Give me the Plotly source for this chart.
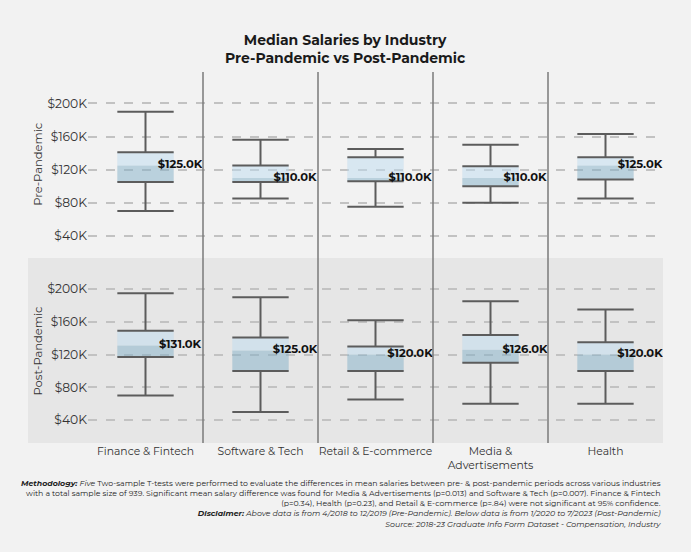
import plotly.graph_objects as go

# ---------------- data (salaries in $K) ----------------
industries = ["Finance & Fintech", "Software & Tech", "Retail & E-commerce",
              "Media &<br>Advertisements", "Health"]

pre_whislo = [70, 85, 75, 80, 85]
pre_q1 = [105, 105, 106, 100, 108]
pre_med = [125, 110, 110, 110, 125]
pre_q3 = [141, 125, 135, 124, 135]
pre_whishi = [190, 156, 145, 150, 163]

post_whislo = [70, 50, 65, 60, 60]
post_q1 = [117, 100, 100, 110, 100]
post_med = [131, 125, 120, 126, 120]
post_q3 = [149, 141, 130, 144, 135]
post_whishi = [195, 190, 162, 185, 175]

tick_vals = [40, 80, 120, 160, 200]
tick_text = ["$40K", "$80K", "$120K", "$160K", "$200K"]

footnotes = [
    "<b><i>Methodology:</i></b> <i>Five</i> Two-sample T-tests were performed to evaluate the differences in mean salaries between pre- & post-pandemic periods across various industries",
    "with a total sample size of 939. Significant mean salary difference was found for Media & Advertisements (p=0.013) and Software & Tech (p=0.007). Finance & Fintech",
    "(p=0.34), Health (p=0.23), and Retail & E-commerce (p=.84) were not significant at 95% confidence.",
    "<b><i>Disclaimer:</i></b> <i>Above data is from 4/2018 to 12/2019 (Pre-Pandemic). Below data is from 1/2020 to 7/2023 (Post-Pandemic)</i>",
    "<i>Source: 2018-23 Graduate Info Form Dataset - Compensation, Industry</i>",
]

# ---------------- style ----------------
FONT = "Montserrat, Inter, sans-serif"
BG = "#f2f2f2"
BOTTOM_BG = "#e6e6e6"
LIGHT = "rgba(190,220,240,0.5)"
DARK = "rgba(130,175,200,0.5)"
WHISK = "#5c5c5c"
BOX_W = 0.49

W, H = 691, 552
ML, MR, MT, MB = 88, 28, 72, 109
PH = H - MT - MB


def py(pix):
    return (H - MB - pix) / PH


def px(pix):
    return (pix - ML) / (W - ML - MR)


fig = go.Figure()
xs = list(range(len(industries)))


def add_panel(xa, ya, lo, q1, med, q3, hi):
    fig.add_trace(go.Bar(x=xs, y=[m - a for m, a in zip(med, q1)], base=q1,
                         width=BOX_W, marker=dict(color=DARK, line=dict(width=0)),
                         xaxis=xa, yaxis=ya, hoverinfo="skip", showlegend=False))
    fig.add_trace(go.Bar(x=xs, y=[b - m for m, b in zip(med, q3)], base=med,
                         width=BOX_W, marker=dict(color=LIGHT, line=dict(width=0)),
                         xaxis=xa, yaxis=ya, hoverinfo="skip", showlegend=False))
    lx, ly = [], []
    for i in xs:
        for v in (lo[i], q1[i], q3[i], hi[i]):
            lx += [i - BOX_W / 2, i + BOX_W / 2, None]
            ly += [v, v, None]
        lx += [i, i, None, i, i, None]
        ly += [q3[i], hi[i], None, lo[i], q1[i], None]
    fig.add_trace(go.Scatter(x=lx, y=ly, mode="lines",
                             line=dict(color=WHISK, width=2),
                             xaxis=xa, yaxis=ya, hoverinfo="skip", showlegend=False))
    fig.add_trace(go.Scatter(x=[i + 0.3 for i in xs], y=med, mode="text",
                             text=[f"<b>${m:.1f}K</b>" for m in med],
                             textfont=dict(family=FONT, size=11.5, color="#111"),
                             textposition="middle center",
                             xaxis=xa, yaxis=ya, hoverinfo="skip", showlegend=False))


add_panel("x2", "y", pre_whislo, pre_q1, pre_med, pre_q3, pre_whishi)
add_panel("x", "y2", post_whislo, post_q1, post_med, post_q3, post_whishi)

yax = dict(tickvals=tick_vals, ticktext=tick_text, showgrid=True,
           gridcolor="#c2c2c2", gridwidth=1.5, griddash="dash",
           zeroline=False, showline=False, ticks="",
           tickfont=dict(family=FONT, size=12.3, color="#333"))

fig.update_layout(
    width=W, height=H,
    margin=dict(l=ML, r=MR, t=MT, b=MB),
    paper_bgcolor=BG, plot_bgcolor="rgba(0,0,0,0)",
    barmode="overlay",
    font=dict(family=FONT, color="#333"),
    xaxis=dict(domain=[0, 1], anchor="y2", range=[-0.5, 4.5], tickvals=xs,
               ticktext=industries, showgrid=False, zeroline=False, ticks="",
               tickfont=dict(family=FONT, size=10.8, color="#333")),
    xaxis2=dict(domain=[0, 1], anchor="y", matches="x", range=[-0.5, 4.5],
                showticklabels=False, showgrid=False, zeroline=False, ticks=""),
    yaxis=dict(domain=[0.505, 1], range=[16, 238], anchor="x2", **yax),
    yaxis2=dict(domain=[0, 0.4987], range=[12, 238], anchor="x", **yax),
    showlegend=False,
)

# bottom panel background
fig.add_shape(type="rect", xref="paper", yref="y2 domain", x0=px(28), x1=1,
              y0=0, y1=1, fillcolor=BOTTOM_BG, line=dict(width=0), layer="below")
# category separators
for i in xs[:-1]:
    fig.add_shape(type="line", xref="x", yref="paper", x0=i + 0.5, x1=i + 0.5,
                  y0=0, y1=1, line=dict(color="#7a7a7a", width=1.5), layer="above")

fig.add_annotation(text="<b>Median Salaries by Industry<br>Pre-Pandemic vs Post-Pandemic</b>",
                   xref="paper", yref="paper", x=px(345.5), y=py(48.5),
                   xanchor="center", yanchor="middle", showarrow=False,
                   font=dict(family=FONT, size=14, color="#1a1a1a"))

fig.add_annotation(text="Pre-Pandemic", xref="paper", yref="y domain", x=px(38), y=0.5,
                   textangle=-90, xanchor="center", yanchor="middle", showarrow=False,
                   font=dict(family=FONT, size=11.5, color="#333"))
fig.add_annotation(text="Post-Pandemic", xref="paper", yref="y2 domain", x=px(38), y=0.5,
                   textangle=-90, xanchor="center", yanchor="middle", showarrow=False,
                   font=dict(family=FONT, size=11.5, color="#333"))

fig.add_annotation(text="<br>".join(footnotes), xref="paper", yref="paper",
                   x=1, y=py(475.5), xanchor="right", yanchor="top", align="right",
                   showarrow=False, font=dict(family=FONT, size=7.8, color="#222"))

fig.write_html("out.html",
               config={"displayModeBar": False},
               post_script="document.body.style.margin='0';"
                           "document.body.style.background='%s';" % BG)
